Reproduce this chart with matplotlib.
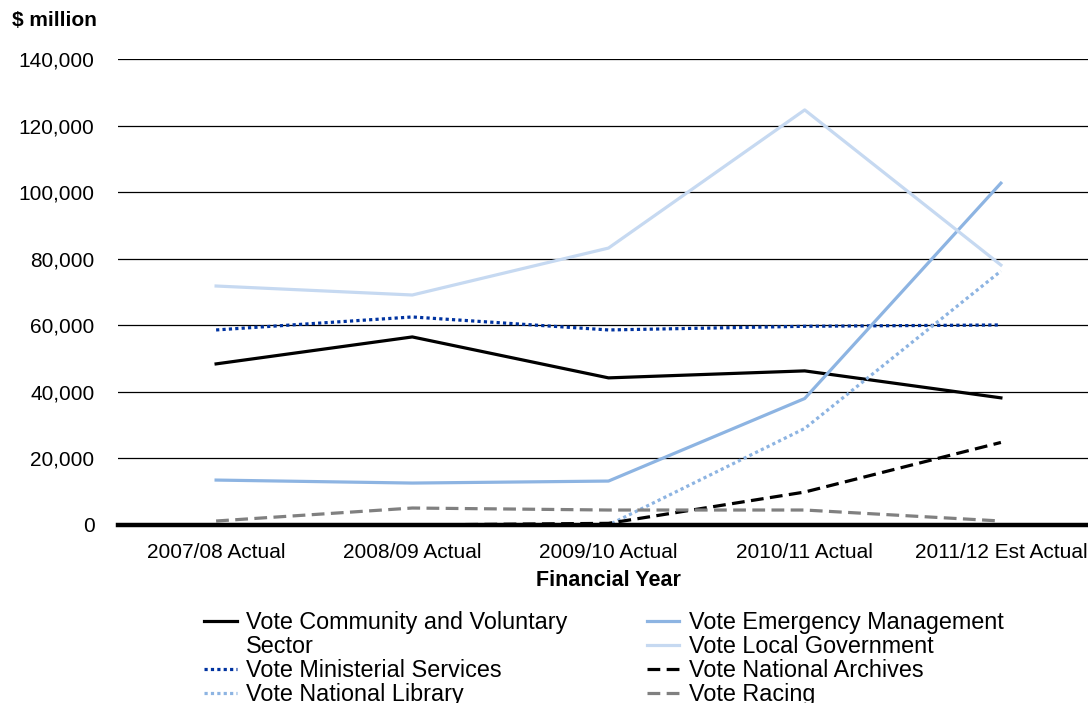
import matplotlib.pyplot as plt
from matplotlib.lines import Line2D

plt.rcParams['font.family'] = ['Liberation Sans', 'DejaVu Sans']

years = ["2007/08 Actual", "2008/09 Actual", "2009/10 Actual", "2010/11 Actual", "2011/12 Est Actual"]

community = [48400, 56500, 44200, 46300, 38200]
emergency = [13500, 12600, 13200, 38000, 102700]
local_govt = [71800, 69100, 83200, 124700, 78100]
ministerial = [58600, 62500, 58600, 59700, 60100]
archives = [0, 0, 500, 9900, 24800]
library = [0, 0, 0, 29000, 76300]
racing = [1200, 5100, 4500, 4500, 1200]

yticks = [0, 20000, 40000, 60000, 80000, 100000, 120000, 140000]

fig = plt.figure(figsize=(10.88, 7.03), dpi=100)
ax = fig.add_axes([118 / 1088, 1 - 525 / 703, 981 / 1088, 466 / 703])

x = range(len(years))
dot = (0, (1, 1))
dash = (0, (4, 2))
ax.plot(x, community, color="black", lw=2.3, label="Vote Community and Voluntary")
ax.plot(x, ministerial, color="#0033A0", lw=2.3, ls=dot, label="Vote Ministerial Services")
ax.plot(x, library, color="#8DB4E2", lw=2.3, ls=dot, label="Vote National Library")
ax.plot(x, emergency, color="#8DB4E2", lw=2.3, label="Vote Emergency Management")
ax.plot(x, local_govt, color="#C6D9F1", lw=2.3, label="Vote Local Government")
ax.plot(x, archives, color="black", lw=2.3, ls=dash, label="Vote National Archives")
ax.plot(x, racing, color="#808080", lw=2.3, ls=dash, label="Vote Racing")

ax.set_xlim(-0.5, 4.5)
ax.set_ylim(0, 140000)
ax.set_yticks(yticks)
ax.set_yticklabels([f"{v:,}" for v in yticks], fontsize=15)
ax.set_xticks(list(x))
ax.set_xticklabels(years, fontsize=15)
ax.tick_params(axis="x", length=0, pad=13)
ax.tick_params(axis="y", length=0, pad=17)
for v in yticks[1:]:
    ax.axhline(v, color="black", lw=0.9, zorder=0)
ax.axhline(0, color="black", lw=3.2, zorder=5, clip_on=False)
for s in ax.spines.values():
    s.set_visible(False)

ax.set_xlabel("Financial Year", fontsize=15.5, fontweight="bold", labelpad=6)
fig.text(12 / 1088, 1 - 21 / 703, "$ million", fontsize=15, fontweight="bold", va="center")

h, l = ax.get_legend_handles_labels()
blank = Line2D([], [], color="none")
handles = [h[0], blank, h[1], h[2], h[3], h[4], h[5], h[6]]
labels = [l[0], "Sector", l[1], l[2], l[3], l[4], l[5], l[6]]
fig.legend(handles, labels, ncol=2, loc="upper left", bbox_to_anchor=(204 / 1088, 1 - 611 / 703),
           frameon=False, fontsize=16.8, handlelength=1.4, handletextpad=0.4,
           labelspacing=0.04, columnspacing=3.4, borderpad=0, borderaxespad=0)

fig.savefig("out.png", dpi=100)
